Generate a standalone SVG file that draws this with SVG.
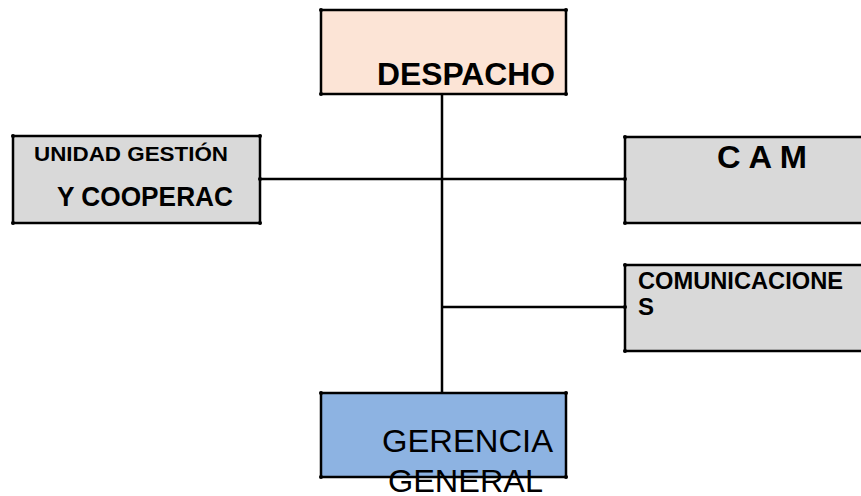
<svg xmlns="http://www.w3.org/2000/svg" width="861" height="496" viewBox="0 0 861 496">
  <style>
    .box { stroke: #000; stroke-width: 2.5; }
    .peach { fill: #fce4d6; }
    .grey { fill: #d9d9d9; }
    .blue { fill: #8db3e2; }
    .wire { stroke: #000; stroke-width: 2.5; fill: none; }
    .dot { fill: #000; }
    .b { font-family: "Liberation Sans", Arial, sans-serif; font-weight: bold; fill: #000; }
    .r { font-family: "Liberation Sans", Arial, sans-serif; fill: #000; }
  </style>

  <g id="connectors">
    <line class="wire" x1="442" y1="94" x2="442" y2="393"/>
    <line class="wire" x1="260" y1="179" x2="625" y2="179"/>
    <line class="wire" x1="442" y1="307" x2="625" y2="307"/>
  </g>

  <g id="despacho">
    <rect class="box peach" x="321" y="10" width="245" height="84"/>
    <text class="b" x="377" y="85" font-size="32" textLength="178" lengthAdjust="spacingAndGlyphs">DESPACHO</text>
    <circle class="dot" cx="321" cy="10" r="2"/><circle class="dot" cx="566" cy="10" r="2"/>
    <circle class="dot" cx="321" cy="94" r="2"/><circle class="dot" cx="566" cy="94" r="2"/>
  </g>

  <g id="unidad-gestion">
    <rect class="box grey" x="13" y="136" width="247" height="87"/>
    <text class="b" x="34" y="161" font-size="21" textLength="194" lengthAdjust="spacingAndGlyphs">UNIDAD GESTIÓN</text>
    <text class="b" x="57" y="206" font-size="27" textLength="176" lengthAdjust="spacingAndGlyphs">Y COOPERAC</text>
    <circle class="dot" cx="13" cy="136" r="2"/><circle class="dot" cx="260" cy="136" r="2"/>
    <circle class="dot" cx="13" cy="223" r="2"/><circle class="dot" cx="260" cy="223" r="2"/>
    <circle class="dot" cx="260" cy="179" r="2"/>
  </g>

  <g id="cam">
    <rect class="box grey" x="625" y="137" width="250" height="86"/>
    <text class="b" x="717" y="168" font-size="32" textLength="90" lengthAdjust="spacingAndGlyphs">C A M</text>
    <circle class="dot" cx="625" cy="137" r="2"/><circle class="dot" cx="625" cy="223" r="2"/>
    <circle class="dot" cx="625" cy="179" r="2"/>
  </g>

  <g id="comunicaciones">
    <rect class="box grey" x="625" y="265" width="250" height="86"/>
    <text class="b" x="638" y="289" font-size="24" textLength="205" lengthAdjust="spacingAndGlyphs">COMUNICACIONE</text>
    <text class="b" x="638" y="315" font-size="24">S</text>
    <circle class="dot" cx="625" cy="265" r="2"/><circle class="dot" cx="625" cy="351" r="2"/>
    <circle class="dot" cx="625" cy="307" r="2"/>
  </g>

  <g id="gerencia-general">
    <rect class="box blue" x="321" y="393" width="245" height="84"/>
    <text class="r" x="382" y="452" font-size="32" textLength="171" lengthAdjust="spacingAndGlyphs">GERENCIA</text>
    <text class="r" x="388" y="492" font-size="32" textLength="155" lengthAdjust="spacingAndGlyphs">GENERAL</text>
    <circle class="dot" cx="321" cy="393" r="2"/><circle class="dot" cx="566" cy="393" r="2"/>
    <circle class="dot" cx="321" cy="477" r="2"/><circle class="dot" cx="566" cy="477" r="2"/>
  </g>
</svg>
